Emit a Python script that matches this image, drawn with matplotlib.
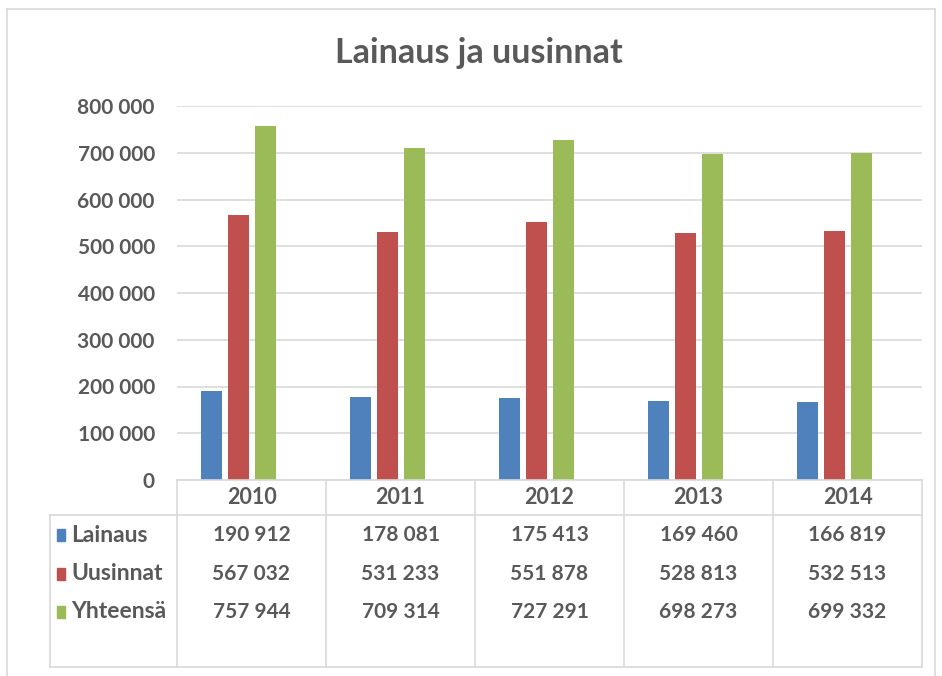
import matplotlib
matplotlib.use("Agg")
import matplotlib.pyplot as plt
from matplotlib.patches import Rectangle
from matplotlib.lines import Line2D

years = ["2010", "2011", "2012", "2013", "2014"]
series_names = ["Lainaus", "Uusinnat", "Yhteensä"]
lainaus = [190912, 178081, 175413, 169460, 166819]
uusinnat = [567032, 531233, 551878, 528813, 532513]
yhteensa = [757944, 709314, 727291, 698273, 699332]
yticks = [0, 100000, 200000, 300000, 400000, 500000, 600000, 700000, 800000]
title = "Lainaus ja uusinnat"

colors = ["#4F81BD", "#C0504D", "#9BBB59"]
txt = "#595959"
grid = "#D9D9D9"
FONT = "Lato"

W, H = 942, 676
fig = plt.figure(figsize=(W / 100, H / 100), dpi=100)


def fx(px):
    return px / W


def fy(py):
    return 1 - py / H


def fmt(v):
    return f"{v:,}".replace(",", " ")


# outer frame
for (x0, y0, x1, y1) in [(7, 9, 935, 9), (7, 9, 7, 676), (935, 9, 935, 676)]:
    fig.add_artist(Line2D([fx(x0), fx(x1)], [fy(y0), fy(y1)], color=grid, lw=1.2,
                          transform=fig.transFigure))

fig.text(fx(479), fy(53), title, ha="center", va="center", fontsize=24.5,
         fontweight="bold", color=txt, family=FONT)

L, R, T, B = 177, 922, 106, 480
ax = fig.add_axes([fx(L), fy(B), fx(R) - fx(L), fy(T) - fy(B)])
ax.set_xlim(-0.5, len(years) - 0.5)
ax.set_ylim(0, 800000)

data = [lainaus, uusinnat, yhteensa]
bw = 0.141
step = 0.181
shift = -0.087
for k, (vals, c) in enumerate(zip(data, colors)):
    xs = [i + shift + (k - 1) * step for i in range(len(years))]
    ax.bar(xs, vals, width=bw, color=c, zorder=3)

ax.set_yticks(yticks)
ax.set_yticklabels([fmt(v) for v in yticks], fontsize=15, fontweight="bold",
                   color=txt, family=FONT)
ax.tick_params(axis="y", length=0, pad=16)
ax.set_xticks([])
ax.grid(axis="y", color=grid, lw=1.2, zorder=0)
for s in ax.spines.values():
    s.set_visible(False)
ax.patch.set_alpha(0)

# data table
col_w = (R - L) / len(years)
TL, HB, TB = 50, 515, 667
lines = [
    (L, B, R, B), (TL, HB, R, HB), (TL, TB, R, TB), (TL, HB, TL, TB), (R, B, R, TB),
]
for i in range(len(years)):
    xv = L + i * col_w
    lines.append((xv, B, xv, TB))
for (x0, y0, x1, y1) in lines:
    fig.add_artist(Line2D([fx(x0), fx(x1)], [fy(y0), fy(y1)], color=grid, lw=1.2,
                          transform=fig.transFigure))

for i, yr in enumerate(years):
    cx = L + (i + 0.5) * col_w
    fig.text(fx(cx), fy(497), yr, ha="center", va="center", fontsize=15.5,
             fontweight="bold", color=txt, family=FONT)

row_y = [535, 574, 612]
for r, (name, vals, c) in enumerate(zip(series_names, data, colors)):
    yy = row_y[r]
    fig.add_artist(Rectangle((fx(57), fy(yy + 6)), fx(8), fy(0) - fy(12), color=c,
                             transform=fig.transFigure))
    fig.text(fx(71), fy(yy), name, ha="left", va="center", fontsize=16.5,
             fontweight="bold", color=txt, family=FONT)
    for i, v in enumerate(vals):
        cx = L + (i + 0.5) * col_w
        fig.text(fx(cx), fy(yy), fmt(v), ha="center", va="center", fontsize=15,
                 fontweight="bold", color=txt, family=FONT)

fig.savefig("out.png", dpi=100)
